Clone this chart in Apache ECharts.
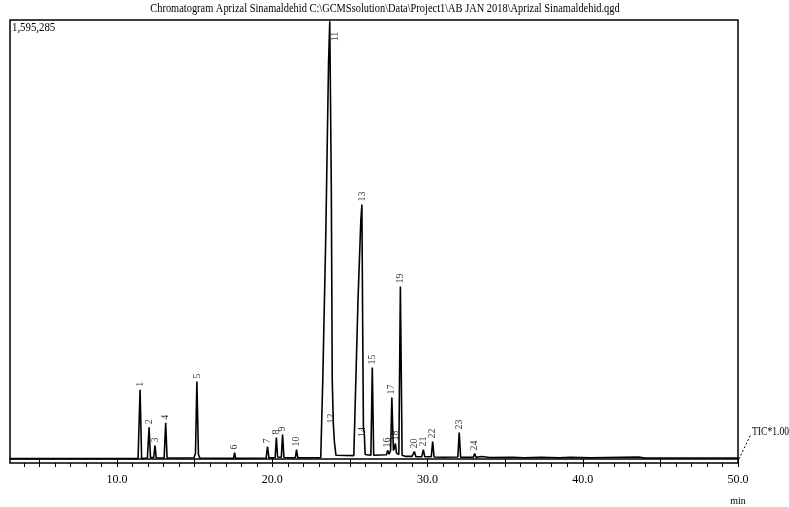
<!DOCTYPE html>
<html>
<head>
<meta charset="utf-8">
<script src="https://cdn.jsdelivr.net/npm/echarts@6/dist/echarts.min.js"></script>
<style>
  html, body { margin: 0; padding: 0; background: #fff; }
  #chart { width: 789px; height: 507px; }
</style>
</head>
<body>
<div id="chart"></div>
<script>
// TIC trace (time in min, intensity in counts)
var traceTime = [
  3.1, 11.35, 11.48, 11.58, 11.95, 12.06, 12.15, 12.36, 12.44, 12.52,
  13.03, 13.13, 13.22, 14.95, 15.05, 15.14, 15.24, 15.33, 17.50, 17.57,
  17.64, 19.60, 19.69, 19.78, 20.18, 20.26, 20.34, 20.58, 20.66, 20.75,
  21.48, 21.56, 21.64, 23.12, 23.25, 23.44, 23.62, 23.70, 23.80, 23.86,
  23.93, 24.00, 24.10, 25.25, 25.31, 25.52, 25.70, 25.77, 25.82, 25.87,
  25.92, 25.98, 26.35, 26.44, 26.53, 27.35, 27.43, 27.52, 27.62, 27.70,
  27.80, 27.87, 27.93, 28.00, 28.15, 28.25, 28.36, 28.60, 29.00, 29.15,
  29.25, 29.63, 29.73, 29.82, 30.24, 30.33, 30.42, 31.00, 31.95, 32.04,
  32.13, 32.95, 33.04, 33.12, 33.50, 34.00, 35.50, 36.20, 37.30, 38.50,
  39.20, 40.50, 43.60, 44.00, 50.00
];
var traceSignal = [
  0, 0, 251000, 0, 2000, 114000, 4000, 4000, 48000, 3000,
  2000, 131000, 2000, 3000, 20000, 281000, 15000, 2000, 1000, 22000,
  1000, 2000, 44000, 3000, 3000, 77000, 6000, 5000, 88000, 4000,
  3000, 33000, 3000, 4000, 288000, 802000, 1440000, 1595285, 990000, 288000,
  128000, 60000, 12000, 11000, 15000, 580000, 868000, 927000, 495000, 108000,
  99000, 15000, 12000, 332000, 12000, 14000, 30000, 16000, 30000, 223000,
  30000, 40000, 55000, 20000, 15000, 628000, 12000, 8000, 8000, 26000,
  7000, 7000, 33000, 7000, 7000, 62000, 6000, 5000, 6000, 95000,
  5000, 5000, 19000, 5000, 8000, 4000, 5000, 3000, 5000, 3000,
  5000, 3000, 6000, 2000, 2000
];

// peak numbers and where they sit
var peakIds = ['1', '2', '3', '4', '5', '6', '7', '8', '9', '10', '11', '12',
  '13', '14', '15', '16', '17', '18', '19', '20', '21', '22', '23', '24'];
var peakTimes = [11.48, 12.06, 12.44, 13.13, 15.14, 17.57, 19.69, 20.26, 20.66, 21.56,
  23.70, 23.93, 25.77, 25.87, 26.44, 27.43, 27.70, 27.93, 28.25, 29.15, 29.73, 30.33, 32.04, 33.04];
var peakHeights = [251000, 114000, 48000, 131000, 281000, 22000, 44000, 77000, 88000, 33000,
  1595285, 128000, 927000, 108000, 332000, 30000, 223000, 55000, 628000, 26000, 33000, 62000, 95000, 19000];

var xLabels = [10, 20, 30, 40, 50];
var majorTicks = [5, 10, 15, 20, 25, 30, 35, 40, 45, 50];
var minorTicks = [];
for (var m = 4; m <= 50; m++) { minorTicks.push(m); }

var FONT = 'Liberation Serif';

var chart = echarts.init(document.getElementById('chart'));

var trace = [];
for (var i = 0; i < traceTime.length; i++) {
  trace.push([traceTime[i], traceSignal[i]]);
}

// labels are turned 90deg, so offset is [along text (up), across text (right)]
var labelFix = {
  '11': { position: 'inside', offset: [-20, 6] },
  '12': { offset: [-3, -2] },
  '14': { offset: [-11, -1] }
};
var peaks = [];
for (var j = 0; j < peakIds.length; j++) {
  var item = { value: [peakTimes[j], peakHeights[j]], name: peakIds[j] };
  if (labelFix[peakIds[j]]) item.label = labelFix[peakIds[j]];
  peaks.push(item);
}

var option = {
  animation: false,
  grid: {
    left: 10, right: 51, top: 20, bottom: 44,
    show: true, borderColor: '#000', borderWidth: 1.5
  },
  xAxis: [{
    type: 'value', min: 3.1, max: 50,
    splitLine: { show: false },
    axisLine: { lineStyle: { color: '#000', width: 1.5 } },
    axisTick: { customValues: majorTicks, length: 7, lineStyle: { color: '#000' } },
    axisLabel: {
      customValues: xLabels, color: '#000', fontFamily: FONT, fontSize: 12, margin: 11,
      formatter: function(v) { return v.toFixed(1); }
    }
  }, {
    type: 'value', min: 3.1, max: 50, position: 'bottom',
    splitLine: { show: false },
    axisLine: { show: false },
    axisTick: { show: true, customValues: minorTicks, length: 4, lineStyle: { color: '#000' } },
    axisLabel: { show: false, customValues: minorTicks }
  }],
  yAxis: {
    type: 'value', min: -16000, max: 1600000,
    show: false, splitLine: { show: false }
  },
  series: [{
    type: 'line',
    data: trace,
    symbol: 'none',
    lineStyle: { color: '#000', width: 1.6 },
    z: 3
  }, {
    type: 'scatter',
    data: peaks,
    symbolSize: 0,
    label: {
      show: true, position: 'top', distance: 3, rotate: 90,
      align: 'left', verticalAlign: 'middle',
      formatter: '{b}', color: '#000', fontFamily: FONT, fontSize: 10
    },
    z: 4
  }],
  graphic: [{
    type: 'text', x: 385, y: 9, scaleX: 0.8,
    style: {
      text: 'Chromatogram Aprizal Sinamaldehid C:\\GCMSsolution\\Data\\Project1\\AB JAN 2018\\Aprizal Sinamaldehid.qgd',
      fill: '#000', font: '13px ' + FONT, textAlign: 'center', textVerticalAlign: 'middle'
    }
  }, {
    type: 'text', x: 12, y: 22, scaleX: 0.9,
    style: { text: '1,595,285', fill: '#000', font: '12px ' + FONT, textVerticalAlign: 'top' }
  }, {
    type: 'line',
    shape: { x1: 739, y1: 459, x2: 751, y2: 434 },
    style: { stroke: '#000', lineWidth: 1, lineDash: [2, 2] }
  }, {
    type: 'text', x: 752, y: 432, scaleX: 0.8,
    style: { text: 'TIC*1.00', fill: '#000', font: '12px ' + FONT, textVerticalAlign: 'middle' }
  }, {
    type: 'text', x: 738, y: 501,
    style: { text: 'min', fill: '#000', font: '10px ' + FONT, textAlign: 'center', textVerticalAlign: 'middle' }
  }]
};
chart.setOption(option);
</script>
</body>
</html>
